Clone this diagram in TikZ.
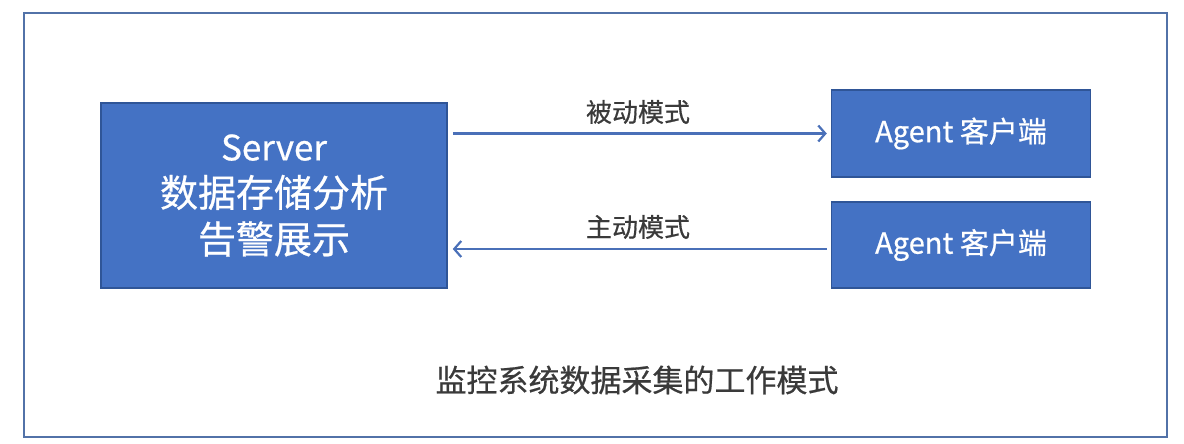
\documentclass[tikz,border=0pt]{standalone}
\usepackage{fontspec}
\setmainfont{Noto Sans CJK SC}[FakeBold=0.6]
\usetikzlibrary{arrows.meta}
\definecolor{boxblue}{HTML}{4472C4}
\definecolor{boxedge}{HTML}{2F5597}
\definecolor{framecol}{HTML}{5272A8}
\definecolor{arrcol}{HTML}{4A70B8}
\definecolor{txtgray}{HTML}{3A3A3A}
\tikzset{
  box/.style={draw=boxedge, line width=1.5pt, fill=boxblue, text=white, align=center, inner sep=0pt},
  arr/.style={draw=arrcol, line width=2.2pt, -{Straight Barb[length=7pt,width=16pt,line width=2.2pt]}},
  lbl/.style={text=txtgray, font=\fontsize{26}{30}\selectfont, inner sep=0pt},
  captext/.style={text=txtgray, font=\fontsize{31}{36}\selectfont, inner sep=0pt}
}
\begin{document}
\begin{tikzpicture}[x=1pt,y=-1pt]
\useasboundingbox (0,0) rectangle (1184,444);
\node[draw=framecol, line width=2.5pt, minimum width=1143pt, minimum height=424pt, inner sep=0pt] (frame) at (595.5,225) {};
\node[box, minimum width=346pt, minimum height=185pt, font=\fontsize{38}{46.5}\selectfont] (server) at (274,195.5)
  {\fontsize{35}{46.5}\selectfont Server\\数据存储分析\\告警展示};
\node[box, minimum width=259pt, minimum height=87pt, font=\fontsize{29}{34}\selectfont] (agent1) at (961,133.5) {Agent 客户端};
\node[box, minimum width=259pt, minimum height=86pt, font=\fontsize{29}{34}\selectfont] (agent2) at (961,245) {Agent 客户端};
\draw[arr, shorten <=5pt, shorten >=4pt] (server.east |- agent1.west) -- (agent1.west);
\draw[arr, shorten <=4pt, shorten >=5pt] ([yshift=-4pt]agent2.west) -- ([yshift=-4pt]agent2.west -| server.east);
\node[lbl] (passive) at (638,112) {被动模式};
\node[lbl] (active) at (638,227) {主动模式};
\node[captext] (caption) at (637,380) {监控系统数据采集的工作模式};
\end{tikzpicture}
\end{document}
